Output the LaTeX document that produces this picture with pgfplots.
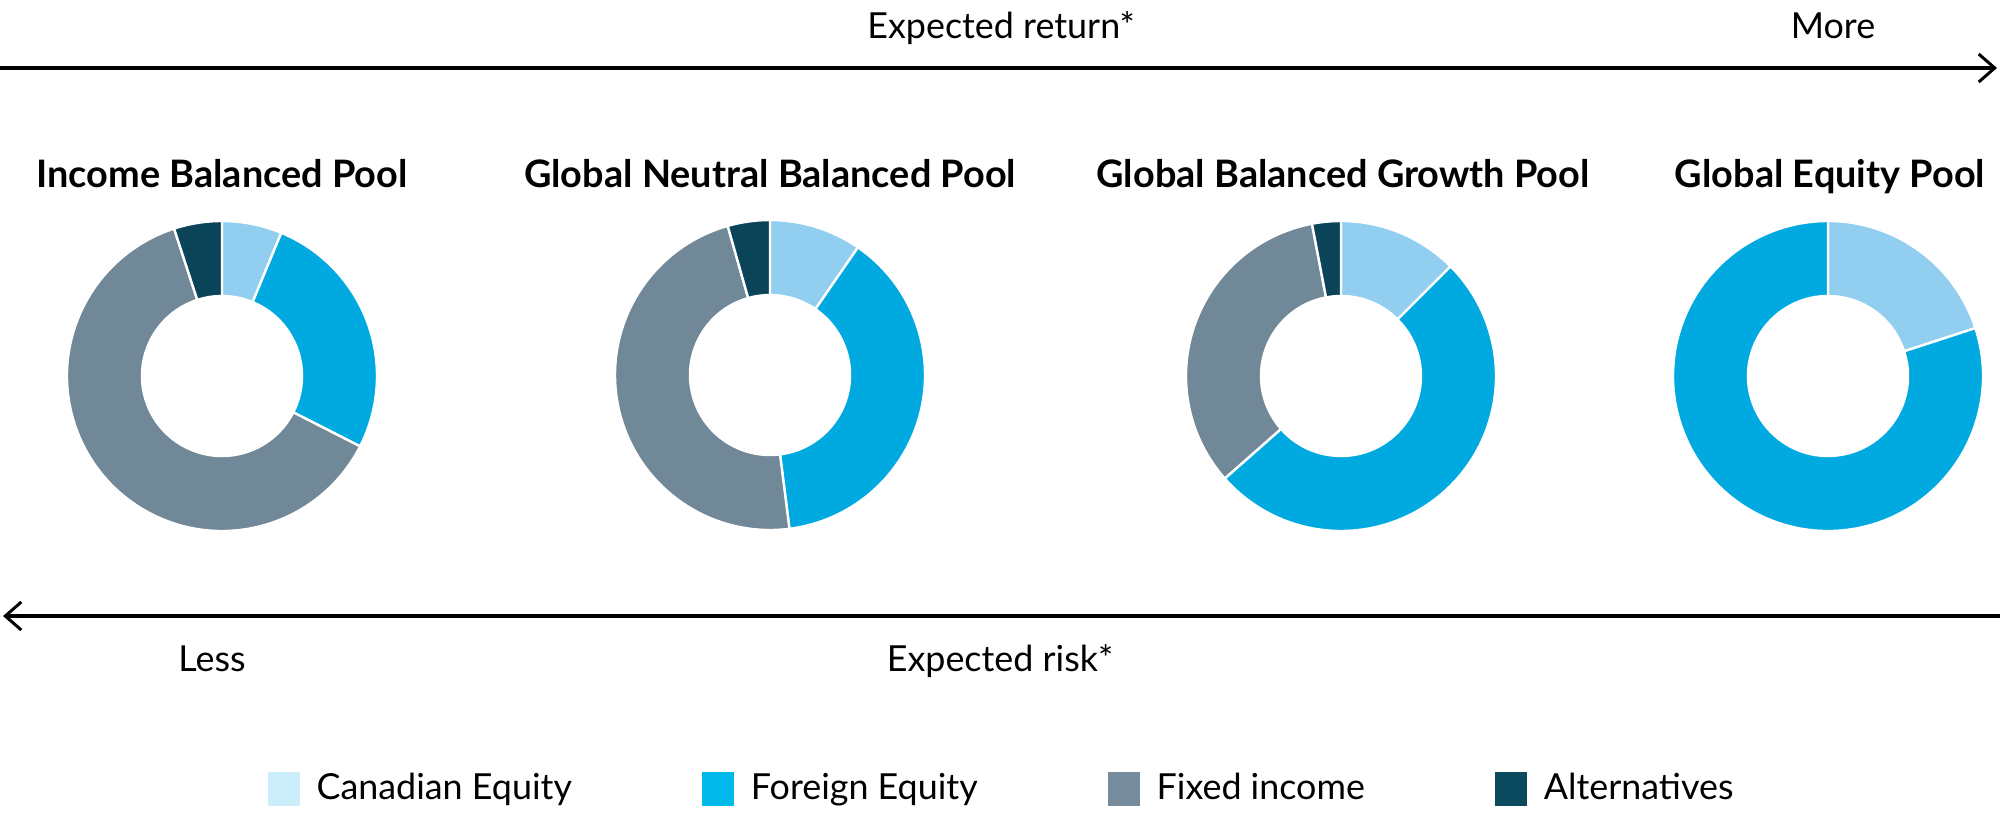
\documentclass[border=0pt]{standalone}
\usepackage{fontspec}
\setmainfont{Lato}
\usepackage{pgfplots}
\usepackage{pgfplotstable}
\pgfplotsset{compat=1.18}
\usetikzlibrary{arrows.meta}

\definecolor{canD}{HTML}{92CEF0}
\definecolor{forD}{HTML}{00A9E0}
\definecolor{fixD}{HTML}{718898}
\definecolor{altD}{HTML}{0B4359}
\definecolor{canL}{HTML}{CCEEFA}
\definecolor{forL}{HTML}{00B8EA}
\definecolor{fixL}{HTML}{768C9C}
\definecolor{altL}{HTML}{0B4A5E}

% pool allocations (percent), donut centre in picture pixels
\pgfplotstableread{
cx   cy  can   for   fix   alt
222  440 6.25  26.25 62.5  5
770  441 9.6   38.4  47.6  4.4
1341 440 12.5  51    33.5  3
1828 440 20    80    0     0
}\pools

% one ring segment: cx cy startpct endpct colour
\newcommand{\seg}[5]{%
 \fill[#5, draw=white, line width=0.6bp]
  (axis cs:{#1+155*cos(90-3.6*(#3))},{#2+155*sin(90-3.6*(#3))})
  arc[start angle={90-3.6*(#3)}, end angle={90-3.6*(#4)}, radius=38.75bp]
  -- (axis cs:{#1+80*cos(90-3.6*(#4))},{#2+80*sin(90-3.6*(#4))})
  arc[start angle={90-3.6*(#4)}, end angle={90-3.6*(#3)}, radius=20bp]
  -- cycle;}
\newcommand{\donut}[6]{%
 \seg{#1}{#2}{0}{#3}{canD}%
 \seg{#1}{#2}{#3}{#3+#4}{forD}%
 \seg{#1}{#2}{#3+#4}{#3+#4+#5}{fixD}%
 \seg{#1}{#2}{#3+#4+#5}{100}{altD}}

\begin{document}
\begin{tikzpicture}
\begin{axis}[
  width=500bp, height=204bp, scale only axis,
  xmin=0, xmax=2000, ymin=0, ymax=816,
  hide axis, clip=false,
  legend columns=4,
  legend image code/.code={\fill[#1] (0bp,-4bp) rectangle (7.5bp,4bp);},
  legend style={draw=none, fill=none, inner sep=0pt, outer sep=0pt,
    at={(axis cs:268,27)}, anchor=west,
    font=\fontsize{9}{10}\selectfont,
    nodes={inner xsep=0pt, inner ysep=0pt},
    /tikz/every odd column/.append style={column sep=4.25bp},
    /tikz/every even column/.append style={column sep=32.6bp}},
]
\addlegendimage{canL}\addlegendentry{Canadian Equity}
\addlegendimage{forL}\addlegendentry{Foreign Equity}
\addlegendimage{fixL}\addlegendentry{Fixed income}
\addlegendimage{altL}\addlegendentry{Alternatives}

\pgfplotsforeachungrouped \i in {0,1,2,3}{%
  \pgfplotstablegetelem{\i}{cx}\of\pools \let\vcx\pgfplotsretval
  \pgfplotstablegetelem{\i}{cy}\of\pools \let\vcy\pgfplotsretval
  \pgfplotstablegetelem{\i}{can}\of\pools \let\vca\pgfplotsretval
  \pgfplotstablegetelem{\i}{for}\of\pools \let\vfo\pgfplotsretval
  \pgfplotstablegetelem{\i}{fix}\of\pools \let\vfi\pgfplotsretval
  \pgfplotstablegetelem{\i}{alt}\of\pools \let\val\pgfplotsretval
  \edef\doit{\noexpand\donut{\vcx}{\vcy}{\vca}{\vfo}{\vfi}{\val}}\doit
}

% arrows
\draw[line width=1bp, -{Straight Barb[length=4bp,width=7bp,line width=0.75bp]}]
  (axis cs:0,748) -- (axis cs:1997,748);
\draw[line width=1bp, -{Straight Barb[length=4bp,width=7bp,line width=0.75bp]}]
  (axis cs:2000,200) -- (axis cs:3,200);

\node[anchor=base, font=\fontsize{9}{10}\selectfont] at (axis cs:1001,778) {Expected return*};
\node[anchor=base, font=\fontsize{9}{10}\selectfont] at (axis cs:1833,778) {More};
\node[anchor=base, font=\fontsize{9}{10}\selectfont] at (axis cs:212,145) {Less};
\node[anchor=base, font=\fontsize{9}{10}\selectfont] at (axis cs:1000,145) {Expected risk*};

\node[anchor=base, font=\fontsize{9.5}{11}\selectfont\bfseries] at (axis cs:222,628.5) {Income Balanced Pool};
\node[anchor=base, font=\fontsize{9.5}{11}\selectfont\bfseries] at (axis cs:770,628.5) {Global Neutral Balanced Pool};
\node[anchor=base, font=\fontsize{9.5}{11}\selectfont\bfseries] at (axis cs:1343,628.5) {Global Balanced Growth Pool};
\node[anchor=base, font=\fontsize{9.5}{11}\selectfont\bfseries] at (axis cs:1830,628.5) {Global Equity Pool};
\end{axis}
\pgfresetboundingbox
\path (0,0) rectangle (500bp,204bp);
\end{tikzpicture}
\end{document}
